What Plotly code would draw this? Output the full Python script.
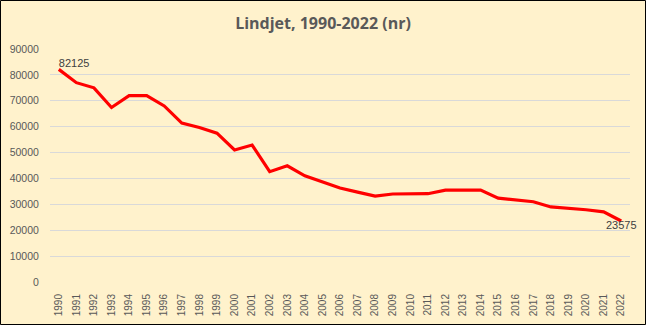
import plotly.graph_objects as go

years = [str(y) for y in range(1990, 2023)]
values = [82125, 77000, 75000, 67400, 72000, 72000, 68000, 61400, 59700, 57500,
          51000, 52900, 42600, 44900, 41000, 38800, 36300, 34700, 33200, 34000,
          34100, 34100, 35500, 35500, 35500, 32400, 31800, 31000, 29000, 28600,
          27900, 27100, 23575]
y_ticks = list(range(0, 90001, 10000))

labels = [""] * len(values)
labels[0] = str(values[0])
labels[-1] = str(values[-1])
positions = ["top right"] + ["top center"] * (len(values) - 2) + ["bottom center"]

W, H = 646, 325
L, R, T, B = 50, 16, 49, 43

fig = go.Figure()
fig.add_trace(go.Scatter(
    x=years, y=values, mode="lines+text", text=labels, textposition=positions,
    textfont=dict(family="Liberation Sans, Arial", size=11, color="#404040"),
    line=dict(color="#FF0000", width=3.2), hoverinfo="x+y", cliponaxis=False,
))

pw = W - L - R
ph = H - T - B
fig.update_layout(
    width=W, height=H,
    margin=dict(l=L, r=R, t=T, b=B, autoexpand=False),
    paper_bgcolor="#FFF2CC", plot_bgcolor="#FFF2CC",
    showlegend=False,
    title=dict(text="<b>Lindjet, 1990-2022 (nr)</b>", x=0.5, xanchor="center",
               y=1 - 23 / H, yanchor="middle",
               font=dict(family="Open Sans, Liberation Sans", size=16, color="#595959")),
    xaxis=dict(type="category", range=[-0.5, len(years) - 0.5], tickangle=-90,
               showgrid=False, showline=False, zeroline=False,
               automargin=False, ticks="outside", ticklen=7, tickcolor="rgba(0,0,0,0)",
               tickfont=dict(family="Liberation Sans, Arial", size=10, color="#595959")),
    yaxis=dict(range=[0, 90000], tickvals=y_ticks, ticktext=[str(v) for v in y_ticks],
               showgrid=True, gridcolor="#D9D9D9", gridwidth=1, zeroline=False,
               automargin=False, ticks="outside", ticklen=8, tickcolor="rgba(0,0,0,0)",
               tickfont=dict(family="Liberation Sans, Arial", size=10.5, color="#595959")),
    shapes=[dict(type="rect", xref="paper", yref="paper",
                 x0=(0.5 - L) / pw, x1=(W - 0.5 - L) / pw,
                 y0=(-(B - 0.5)) / ph, y1=(H - B - 0.5) / ph,
                 line=dict(color="#000000", width=1), fillcolor="rgba(0,0,0,0)", layer="above")],
)
fig.write_html("out.html")
